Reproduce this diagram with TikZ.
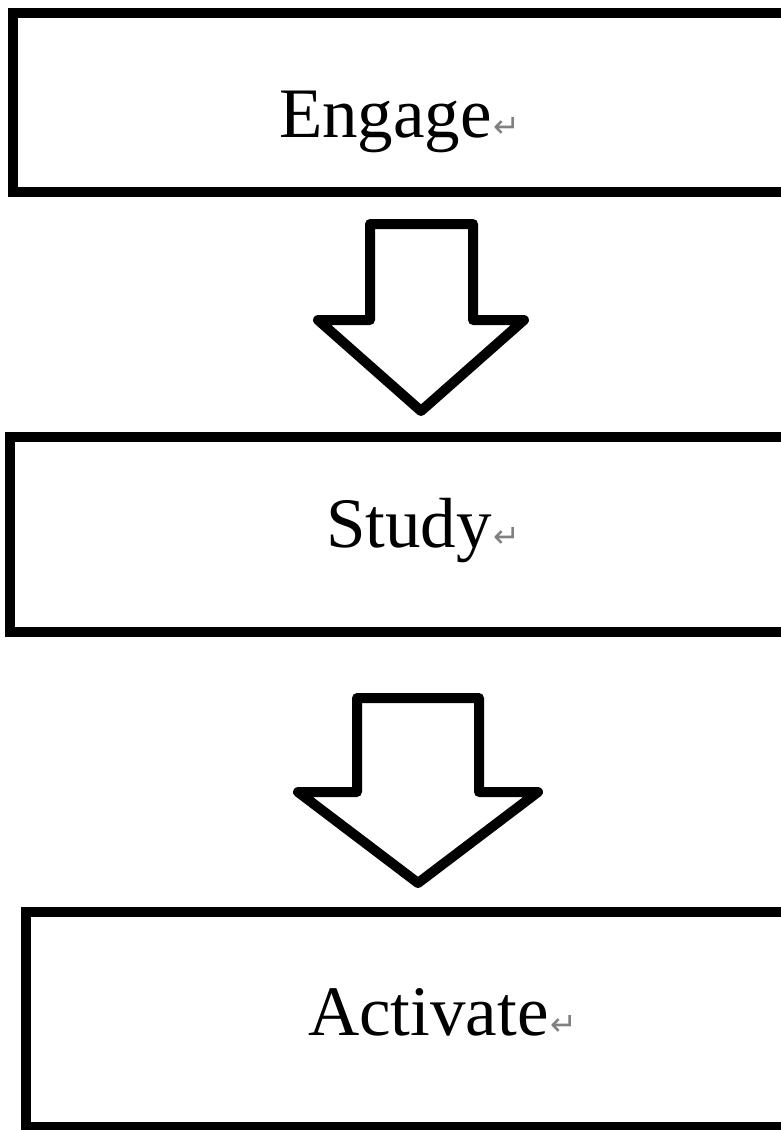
\documentclass[tikz,border=0pt]{standalone}
\usepackage{fontspec}
\setmainfont{Liberation Serif}
\newfontfamily\symfont{DejaVu Sans}
\newcommand{\parmark}{\hspace{2pt}{\symfont\fontsize{32}{32}\selectfont\color{gray}↵}}
\begin{document}
\begin{tikzpicture}[x=1pt, y=-1pt, line width=10pt]
    \tikzset{
        frame/.style={draw=black, line join=miter},
        blockarrow/.style={draw=black, fill=white, line join=round},
        word/.style={anchor=base west, inner sep=0pt, font=\fontsize{71}{71}\selectfont}
    }
    \useasboundingbox (0,0) rectangle (780,1130);

    % Three boxes (right side runs off the page)
    \draw[frame] (13,13) rectangle (820,192);
    \draw[frame] (10,437) rectangle (820,632);
    \draw[frame] (26,912) rectangle (820,1127);

    % Labels
    \node[word] (engage) at (274,137) {Engage\parmark};
    \node[word] (study) at (321,547) {Study\parmark};
    \node[word] (activate) at (303,1035) {Activate\parmark};

    % Block arrows between the boxes
    \draw[blockarrow] (370,224) -- (473,224) -- (473,320) -- (524,320)
                 -- (421,411) -- (318,320) -- (370,320) -- cycle;
    \draw[blockarrow] (357,698) -- (479,698) -- (479,792) -- (538,792)
                 -- (418,883) -- (298,792) -- (357,792) -- cycle;
\end{tikzpicture}
\end{document}
